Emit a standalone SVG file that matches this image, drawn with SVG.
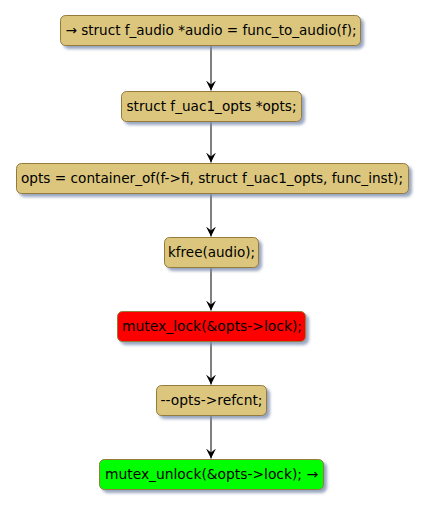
<svg xmlns="http://www.w3.org/2000/svg" width="426" height="507" viewBox="0 0 426 507">
<defs>
<filter id="sh" x="-10%" y="-20%" width="130%" height="160%">
<feGaussianBlur in="SourceAlpha" stdDeviation="1.5"/>
<feOffset dx="3" dy="3" result="b"/>
<feFlood flood-color="#8090b0" flood-opacity="0.8"/>
<feComposite in2="b" operator="in"/>
<feMerge><feMergeNode/><feMergeNode in="SourceGraphic"/></feMerge>
</filter>
<marker id="ah" markerWidth="10" markerHeight="10" refX="10" refY="5" orient="auto" markerUnits="userSpaceOnUse" viewBox="0 0 10 10">
<path d="M0,0 L10,5 L0,10 L4,5 Z" fill="#000"/>
</marker>
</defs>
<style>
rect{stroke:#947a3a;stroke-width:1;filter:url(#sh)}
.n rect{fill:#dcc67e}
text{font-family:"DejaVu Sans",sans-serif;font-size:13.5px;fill:#000;text-anchor:middle}
.c line{stroke:#000;stroke-width:1;marker-end:url(#ah)}
</style>
<g class="c">
<line x1="211" y1="45" x2="211" y2="90.5"/>
<line x1="211" y1="121" x2="211" y2="162.5"/>
<line x1="211" y1="193" x2="211" y2="236.5"/>
<line x1="211" y1="267" x2="211" y2="310.5"/>
<line x1="211" y1="341" x2="211" y2="384.5"/>
<line x1="211" y1="415" x2="211" y2="458.5"/>
</g>
<g id="n1" class="n"><rect x="60.5" y="15.5" width="300" height="30" rx="5"/><text x="211" y="35" textLength="291" lengthAdjust="spacingAndGlyphs">→ struct f_audio *audio = func_to_audio(f);</text></g>
<g id="n2" class="n"><rect x="121.5" y="91.5" width="180" height="30" rx="5"/><text x="211.5" y="111" textLength="170" lengthAdjust="spacingAndGlyphs">struct f_uac1_opts *opts;</text></g>
<g id="n3" class="n"><rect x="16.5" y="163.5" width="392" height="30" rx="5"/><text x="212" y="183" textLength="382" lengthAdjust="spacingAndGlyphs">opts = container_of(f-&gt;fi, struct f_uac1_opts, func_inst);</text></g>
<g id="n4" class="n"><rect x="164.5" y="237.5" width="94" height="30" rx="5"/><text x="211.5" y="257" textLength="87" lengthAdjust="spacingAndGlyphs">kfree(audio);</text></g>
<g id="n5"><rect x="117.5" y="311.5" width="188" height="30" rx="5" fill="#ff0000"/><text x="212" y="331" textLength="180" lengthAdjust="spacingAndGlyphs">mutex_lock(&amp;opts-&gt;lock);</text></g>
<g id="n6" class="n"><rect x="156.5" y="385.5" width="110" height="30" rx="5"/><text x="211.5" y="405" textLength="102" lengthAdjust="spacingAndGlyphs">--opts-&gt;refcnt;</text></g>
<g id="n7"><rect x="99.5" y="459.5" width="224" height="30" rx="5" fill="#00ff00"/><text x="211.5" y="479" textLength="213" lengthAdjust="spacingAndGlyphs">mutex_unlock(&amp;opts-&gt;lock); →</text></g>
</svg>
